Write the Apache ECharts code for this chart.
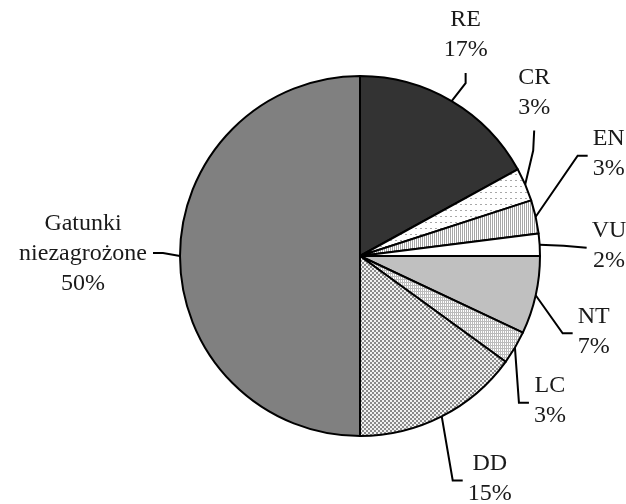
<!DOCTYPE html>
<html>
<head>
<meta charset="utf-8">
<script src="https://cdn.jsdelivr.net/npm/echarts@6/dist/echarts.min.js"></script>
<style>
html,body{margin:0;padding:0;background:#fff;}
#chart{width:626px;height:504px;}
</style>
</head>
<body>
<div id="chart"></div>
<script>
// ---- data ----
const categories = ['RE', 'CR', 'EN', 'VU', 'NT', 'LC', 'DD', 'Gatunki\nniezagrożone'];
const shares = [17, 3, 3, 2, 7, 3, 15, 50];

// ---- styling helpers ----
function makePattern(w, h, bg, draw) {
  const c = document.createElement('canvas');
  c.width = w; c.height = h;
  const ctx = c.getContext('2d');
  ctx.fillStyle = bg; ctx.fillRect(0, 0, w, h);
  draw(ctx);
  return { image: c, repeat: 'repeat' };
}
const fills = [
  '#333333',
  makePattern(5, 6, '#ffffff', ctx => { ctx.fillStyle = '#a8a8a8'; ctx.fillRect(0, 0, 2, 1); }),
  makePattern(2, 1, '#ffffff', ctx => { ctx.fillStyle = '#a6a6a6'; ctx.fillRect(0, 0, 1, 1); }),
  '#ffffff',
  '#c0c0c0',
  makePattern(2, 3, '#ffffff', ctx => { ctx.fillStyle = '#bbbbbb'; ctx.fillRect(0, 0, 1, 3); ctx.fillRect(0, 0, 2, 1); }),
  makePattern(4, 4, '#f2f2f2', ctx => { ctx.fillStyle = '#8a8a8a'; ctx.fillRect(0, 0, 2, 2); ctx.fillRect(2, 2, 2, 2); }),
  '#808080'
];
// leader-line geometry relative to the slice edge point: [elbowDx, elbowDy, endDx, endDy, side]
const guides = [
  [14, -18, 14, -28, 'top'],
  [8, -34, 9, -54, 'top'],
  [42, -61, 52, -61, 'right'],
  [24, 1, 47, 3, 'right'],
  [27, 38, 37, 38, 'right'],
  [4, 55, 14, 55, 'right'],
  [11, 64, 21, 64, 'right'],
  [-17, -3, -27, -3, 'left']
];

const chart = echarts.init(document.getElementById('chart'), null, { renderer: 'canvas' });
chart.setOption({
  animation: false,
  backgroundColor: '#ffffff',
  series: [{
    type: 'pie',
    center: [360, 256],
    radius: 180,
    startAngle: 90,
    clockwise: true,
    avoidLabelOverlap: false,
    silent: true,
    data: categories.map((c, i) => ({
      name: c,
      value: shares[i],
      itemStyle: { color: fills[i] }
    })),
    itemStyle: { borderColor: '#000', borderWidth: 2 },
    label: {
      show: true,
      position: 'outer',
      formatter: '{b}\n{d}%',
      fontFamily: '"Liberation Serif", "Times New Roman", serif',
      fontSize: 24,
      lineHeight: 30,
      color: '#1a1a1a'
    },
    labelLine: {
      show: true,
      length: 15,
      length2: 10,
      lineStyle: { color: '#000', width: 2 }
    },
    labelLayout: function (params) {
      const g = guides[params.dataIndex];
      const p0 = params.labelLinePoints[0];
      const elbow = [p0[0] + g[0], p0[1] + g[1]];
      const end = [p0[0] + g[2], p0[1] + g[3]];
      const w = params.labelRect.width, h = params.labelRect.height;
      let x, y;
      if (g[4] === 'top') { x = end[0]; y = end[1] - 8 - h / 2; }
      else if (g[4] === 'right') { x = end[0] + 5 + w / 2; y = end[1] - 2; }
      else { x = end[0] - 6 - w / 2; y = end[1] + 1; }
      return {
        x: x, y: y, align: 'center', verticalAlign: 'middle',
        labelLinePoints: [p0, elbow, end]
      };
    }
  }]
});
</script>
</body>
</html>
